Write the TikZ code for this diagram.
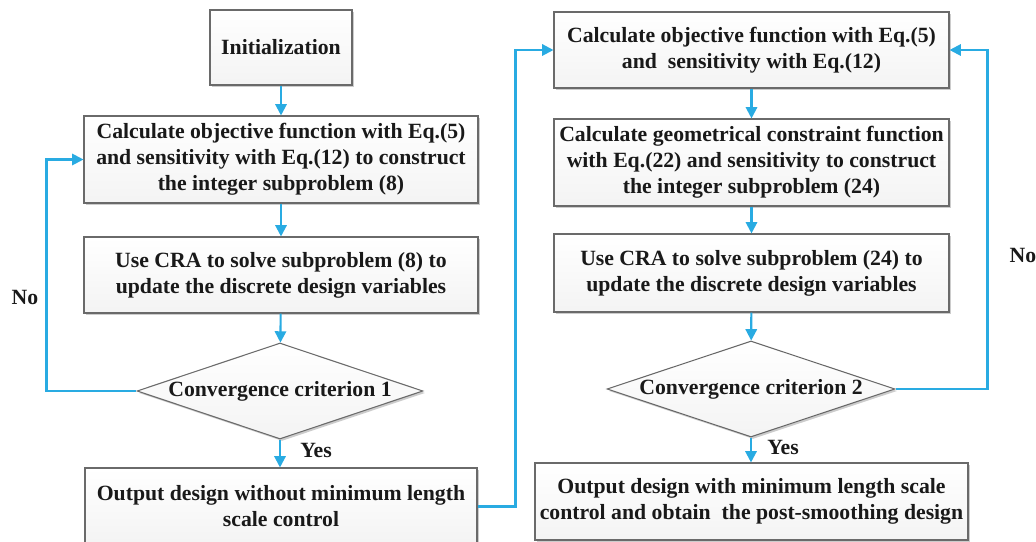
\documentclass[tikz,border=0pt]{standalone}
\usepackage{fontspec}
\setmainfont{Liberation Serif}
\usetikzlibrary{shapes.geometric,arrows.meta,shadows}
\definecolor{flowblue}{HTML}{29ABE2}
\definecolor{edgegray}{HTML}{6A6A6A}
\begin{document}
\begin{tikzpicture}[x=0.75pt,y=-0.75pt,
  every node/.style={font=\fontsize{16.3}{19.5}\selectfont\bfseries, text=black!90},
  procbox/.style={draw=edgegray, line width=0.8pt, rectangle, align=center, inner sep=1pt,
    top color=white, bottom color=gray!9,
    drop shadow={shadow xshift=1.5pt, shadow yshift=-1.5pt, fill=black!20, opacity=1}},
  decbox/.style={draw=edgegray, line width=0.8pt, diamond, aspect=3, inner sep=0pt, align=center,
    top color=white, bottom color=gray!9,
    drop shadow={shadow xshift=1.5pt, shadow yshift=-1.5pt, fill=black!20, opacity=1}},
  flow/.style={draw=flowblue, line width=1.6pt, -{Triangle[length=8.5pt,width=8.5pt]}},
  lbl/.style={inner sep=0pt}
]
\useasboundingbox (0,0) rectangle (1036,542);

% left column
\node[procbox, minimum width=142*0.75pt, minimum height=75*0.75pt] (init) at (281,47.5) {Initialization};
\node[procbox, minimum width=394*0.75pt, minimum height=87*0.75pt] (l1) at (281,159.5)
  {Calculate objective function with Eq.(5)\\ and sensitivity with Eq.(12) to construct\\ the integer subproblem (8)};
\node[procbox, minimum width=394*0.75pt, minimum height=76*0.75pt] (l2) at (281,275)
  {Use CRA to solve subproblem (8) to\\ update the discrete design variables};
\node[decbox, minimum width=286*0.75pt, minimum height=96*0.75pt] (d1) at (280,391) {Convergence criterion 1};
\node[procbox, minimum width=392*0.75pt, minimum height=77*0.75pt] (l4) at (281,506.5)
  {Output design without minimum length\\ scale control};

% right column
\node[procbox, minimum width=395*0.75pt, minimum height=76*0.75pt] (r1) at (751.5,50)
  {Calculate objective function with Eq.(5)\\ and\ \ sensitivity with Eq.(12)};
\node[procbox, minimum width=395*0.75pt, minimum height=87*0.75pt] (r2) at (751.5,162.5)
  {Calculate geometrical constraint function\\ with Eq.(22) and sensitivity to construct\\ the integer subproblem (24)};
\node[procbox, minimum width=395*0.75pt, minimum height=78*0.75pt] (r3) at (751.5,273)
  {Use CRA to solve subproblem (24) to\\ update the discrete design variables};
\node[decbox, minimum width=288*0.75pt, minimum height=96*0.75pt] (d2) at (751,389) {Convergence criterion 2};
\node[procbox, minimum width=433*0.75pt, minimum height=77*0.75pt] (r4) at (751.5,501.5)
  {Output design with minimum length scale\\ control and obtain\ \ the post-smoothing design};

% labels
\node[lbl] (no1) at (25,297) {No};
\node[lbl] (no2) at (1023,255) {No};
\node[lbl] (yes1) at (316,450) {Yes};
\node[lbl] (yes2) at (783,447) {Yes};

% connectors
\draw[flow] (init) -- (l1);
\draw[flow] (l1) -- (l2);
\draw[flow] (l2) -- (d1);
\draw[flow] (d1) -- (d1 |- l4.north);
\draw[flow] (d1.west) -- ++(-90,0) |- (l1.west);
\draw[flow] (l4.east) -- ++(38,0) |- (r1.west);
\draw[flow] (r1) -- (r2);
\draw[flow] (r2) -- (r3);
\draw[flow] (r3) -- (d2);
\draw[flow] (d2) -- (d2 |- r4.north);
\draw[flow] (d2.east) -- ++(92,0) |- (r1.east);
\end{tikzpicture}
\end{document}
